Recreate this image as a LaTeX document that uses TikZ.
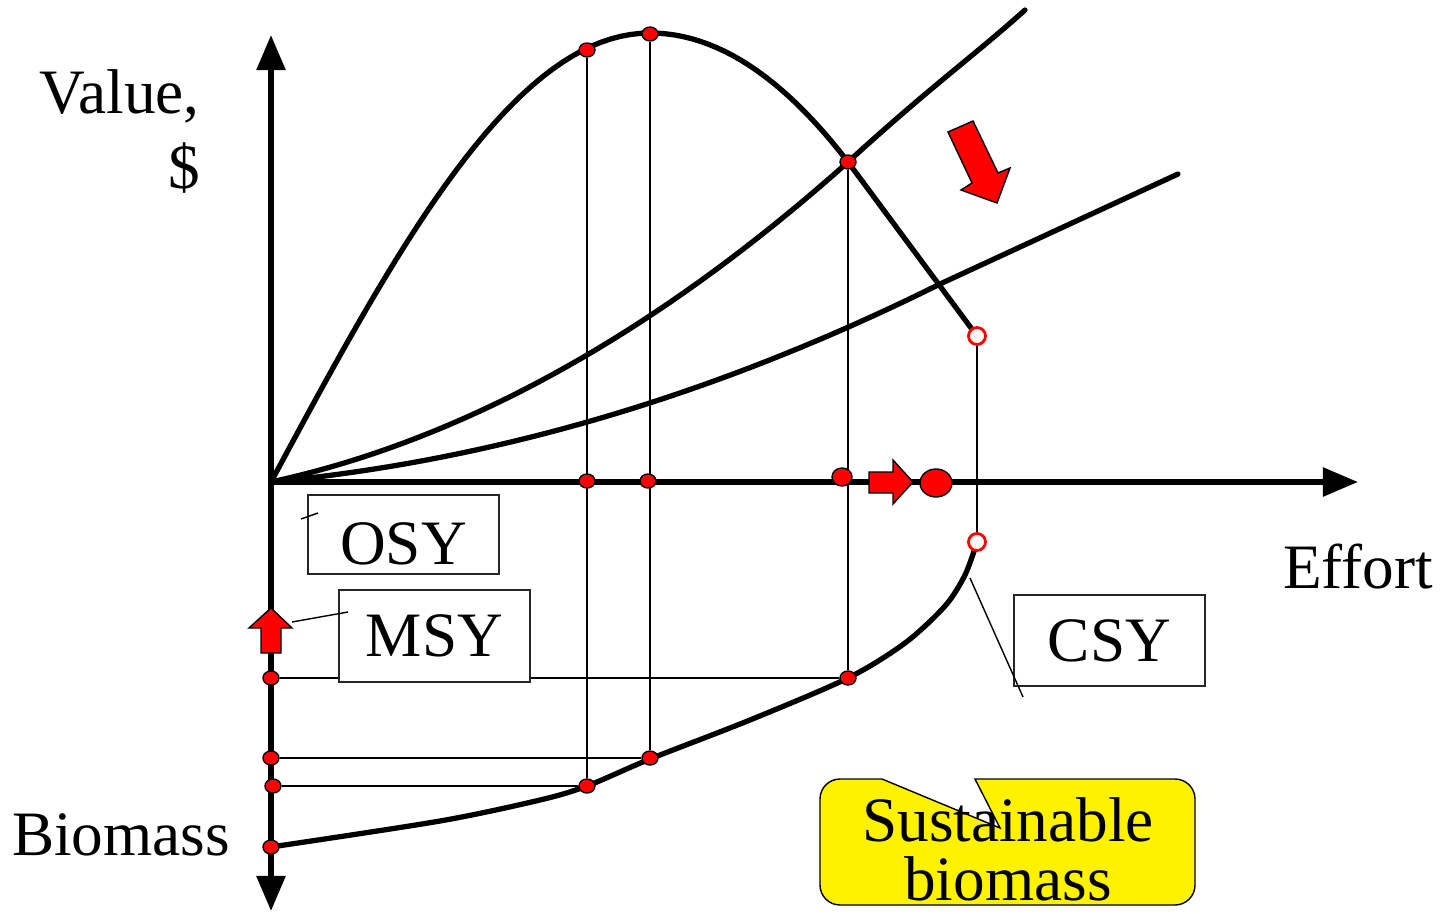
\documentclass[tikz,border=0pt]{standalone}
\usepackage{fontspec}
\setmainfont{Liberation Serif}
\usetikzlibrary{shapes.geometric,arrows.meta,backgrounds}
\tikzstyle{dot} = [ellipse, draw=black, fill=red, line width=0.8pt, inner sep=0pt, minimum width=0.32cm, minimum height=0.28cm]
\tikzstyle{middot} = [dot, minimum width=0.4cm, minimum height=0.36cm]
\tikzstyle{bigdot} = [dot, minimum width=0.64cm, minimum height=0.56cm]
\tikzstyle{opendot} = [circle, draw=red, fill=white, line width=1.6pt, inner sep=0pt, minimum size=0.34cm]
\tikzstyle{sybox} = [rectangle, draw=black!85, fill=white, line width=0.8pt, minimum width=3.82cm, font=\fontsize{36}{43}\selectfont]
\tikzstyle{bigtext} = [font=\fontsize{36}{43}\selectfont, inner sep=0pt]
\tikzstyle{curve} = [line width=3pt, line cap=round, line join=round]
\tikzstyle{guide} = [line width=1.1pt]
\tikzstyle{redarrow} = [draw=black, fill=red, line width=0.8pt]

\begin{document}
\begin{tikzpicture}[x=0.02cm, y=-0.02cm, >={Triangle[length=20pt,width=16pt]}]
    \useasboundingbox (0,0) rectangle (1440,913);
    % Axes
    \coordinate (O) at (271,482);
    \coordinate (ytop) at (271,35);
    \coordinate (ybot) at (271,911);
    \coordinate (xend) at (1358,482);

    % Points on the yield curve
    \node [dot] (y1) at (587,50) {};
    \node [dot] (y2) at (650,34) {};
    \node [dot] (y3) at (848,162) {};
    \node [opendot] (o1) at (977,336) {};
    % Points on the effort axis
    \node [dot] (e1) at (587,481) {};
    \node [dot] (e2) at (648,481) {};
    \node [middot] (e3) at (842,477) {};
    \node [bigdot] (e4) at (936,483) {};
    % Points on the biomass curve
    \node [dot] (b1) at (587,786) {};
    \node [dot] (b2) at (650,758) {};
    \node [dot] (b3) at (848,678) {};
    \node [opendot] (o2) at (977,542) {};
    % Points on the biomass axis
    \node [dot] (a1) at (273,786) {};
    \node [dot] (a2) at (271,758) {};
    \node [dot] (a3) at (271,678) {};
    \node [dot] (a0) at (271,847) {};

    \begin{pgfonlayer}{background}
    % Guides
    \draw [guide] (y1) -- (b1);
    \draw [guide] (y2) -- (b2);
    \draw [guide] (y3) -- (b3);
    \draw [guide] (o1) -- (o2);
    \draw [guide] (a1) -- (b1);
    \draw [guide] (a2) -- (b2);
    \draw [guide] (a3) -- (b3);
    % Curves
    \draw [curve] (O) -- plot [domain=0:3.79, samples=40] ({271+100*\x}, {482-449*sin(90*\x/3.79)})
        -- plot [domain=0:1.98, samples=25] ({650+100*\x}, {33+32.9*\x*\x}) -- (977,336);
    \draw [curve] (O) -- plot [domain=0:5.77, samples=40] ({271+100*\x}, {482-21.7*\x-5.85*\x*\x})
        .. controls (930,87) and (975,55) .. (1025,10);
    \draw [curve] (O) -- plot [domain=0:6.69, samples=40] ({271+100*\x}, {482-9.46*\x-3.01*\x*\x})
        -- (1178,174);
    \draw [curve] plot [smooth] coordinates {(271,847) (440,821) (540,800) (587,786) (650,759) (750,720) (848,678) (905,643) (945,606) (965,575) (977,542)};
    % Axes
    \draw [line width=3.2pt, <->] (ybot) -- (ytop);
    \draw [line width=3.2pt, ->] (O) -- (xend);
    \end{pgfonlayer}

    % Red arrows
    \draw [redarrow] (869,472) -- (893,472) -- (893,460) -- (913,482) -- (893,504) -- (893,493) -- (869,493) -- cycle;
    \draw [redarrow] (261,653) -- (261,628) -- (249,628) -- (271,608) -- (292,628) -- (281,628) -- (281,653) -- cycle;
    \draw [redarrow] (948,132) -- (973,121) -- (998,173) -- (1010,168) -- (997,203) -- (961,190) -- (972,183) -- cycle;

    % Labels
    \node [bigtext, align=right, anchor=north east] (value) at (200,69) {Value,\\\$};
    \node [bigtext, anchor=base] (effort) at (1358,588) {Effort};
    \node [bigtext, anchor=base] (biomass) at (121,855) {Biomass};

    \node [sybox, minimum height=1.58cm, text height=34pt, text depth=0pt] (osy) at (403.5,534.5) {OSY};
    \node [sybox, minimum height=1.84cm] (msy) at (434.5,636) {MSY};
    \node [sybox, minimum height=1.82cm] (csy) at (1109.5,640.5) {CSY};
    \coordinate (osyA) at (301,519);
    \coordinate (osyB) at (318,513);
    \coordinate (msyA) at (292,622);
    \coordinate (msyB) at (348,612);
    \coordinate (csyA) at (970,578);
    \coordinate (csyB) at (1023,697);
    \draw [line width=0.8pt] (osyA) -- (osyB);
    \draw [line width=0.8pt] (msyA) -- (msyB);
    \draw [line width=0.8pt] (csyA) -- (csyB);

    % Callout
    \draw [line width=0.8pt, fill=yellow] (882,779) -- (1000,828) -- (975,779) -- (1175,779)
        arc [start angle=-90, end angle=0, radius=20] -- (1195,885)
        arc [start angle=0, end angle=90, radius=20] -- (840,905)
        arc [start angle=90, end angle=180, radius=20] -- (820,799)
        arc [start angle=180, end angle=270, radius=20] -- cycle;
    \node [bigtext, align=center, anchor=north, font=\fontsize{36}{34}\selectfont] (sust) at (1008,797) {Sustainable\\biomass};
\end{tikzpicture}
\end{document}
